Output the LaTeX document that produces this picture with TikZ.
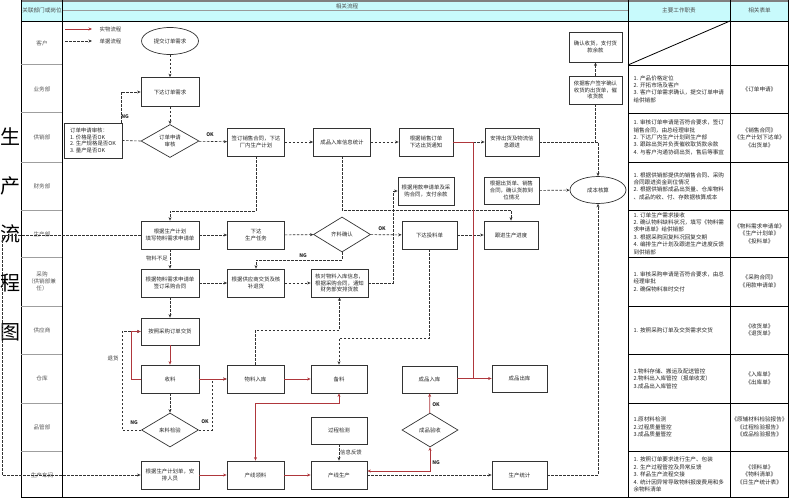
\documentclass[tikz,border=0pt]{standalone}
\usepackage{fontspec}
\setmainfont{Noto Sans CJK SC}
\usetikzlibrary{shapes.geometric,arrows.meta}
\definecolor{matred}{RGB}{175,55,60}
\definecolor{hdcyan}{RGB}{200,250,252}
\newcommand\flowfont{\fontsize{5.4}{6.6}\selectfont}
\newcommand\lblfont{\fontsize{5}{6}\selectfont\bfseries}
\newcommand\dutyfont{\fontsize{5.6}{7.4}\selectfont}
\newcommand\deptfont{\fontsize{5.6}{7}\selectfont}
\begin{document}
\begin{tikzpicture}[x=1pt,y=-1pt,
  box/.style={draw=black!80, line width=0.8pt, fill=white, minimum width=57pt, minimum height=28pt, inner sep=1pt, align=center, font=\flowfont, text=black!85},
  dia/.style={diamond, aspect=1.7, draw=black!80, line width=0.7pt, fill=white, minimum width=57pt, minimum height=34pt, inner sep=0pt, align=center, font=\flowfont, text=black!85},
  ell/.style={ellipse, draw=black!80, line width=0.7pt, fill=white, minimum width=57pt, minimum height=27pt, inner sep=0pt, font=\flowfont, text=black!85},
  doc/.style={draw=black!80, line width=0.6pt, dash pattern=on 2.5pt off 1.5pt, -{Stealth[length=3.5pt,width=3pt]}},
  docn/.style={draw=black!80, line width=0.6pt, dash pattern=on 2.5pt off 1.5pt},
  mat/.style={draw=matred, line width=0.7pt, -{Stealth[length=3.5pt,width=3pt]}},
  matn/.style={draw=matred, line width=0.7pt},
  matb/.style={draw=matred, line width=0.7pt, {Stealth[length=3.5pt,width=3pt]}-{Stealth[length=3.5pt,width=3pt]}},
  lbl/.style={font=\lblfont, inner sep=0.5pt, text=black!85},
  small/.style={font=\flowfont, inner sep=0.5pt, text=black!80},
  dept/.style={font=\deptfont, align=center, text=black!65},
  duty/.style={font=\dutyfont, align=left, text width=98pt, anchor=west, text=black!85},
  form/.style={font=\dutyfont, align=center, text=black!85},
  hdr/.style={font=\deptfont, text=black!70},
  ttl/.style={font=\fontsize{20}{20}\selectfont, text=black, inner sep=0pt}
]
\clip (0,0) rectangle (789,500);
\useasboundingbox (0,0) rectangle (789,500);
\fill[white] (0,0) rectangle (789,500);

% header
\fill[hdcyan] (21,0) rectangle (789,21);
\draw[gray, line width=1.6pt] (21,1) -- (789,1);
\draw[gray!80, line width=1pt] (62,11) -- (628,11);
\draw[black, line width=0.9pt] (21,21) -- (789,21);
\node[hdr] (h1) at (42,10) {关联部门或岗位};
\node[hdr] (h2) at (347,6) {相关流程};
\node[hdr] (h3) at (679,10) {主要工作职责};
\node[hdr] (h4) at (759.5,10) {相关表单};

% table frame
\draw[black, line width=1pt] (21,0) -- (21,498);
\draw[black, line width=1pt] (62,0) -- (62,498);
\draw[black, line width=1pt] (628,0) -- (628,498);
\draw[black, line width=0.8pt] (730,0) -- (730,498);
\draw[black, line width=0.8pt] (788.5,0) -- (788.5,498);
\draw[black, line width=1.6pt] (21,497.5) -- (789,497.5);
\foreach \yy in {65,113,162,210,257,306,354,403,451} {
  \draw[gray!75, line width=1pt] (21,\yy) -- (62,\yy);
  \draw[black, line width=0.8pt] (628,\yy) -- (789,\yy);
}
\draw[black, line width=0.8pt] (628,65) -- (730,21);

% dept labels
\node[dept] (d1) at (42,43) {客户};
\node[dept] (d2) at (42,89) {业务部};
\node[dept] (d3) at (42,137.5) {供销部};
\node[dept] (d4) at (42,186) {财务部};
\node[dept] (d5) at (42,234) {生产部};
\node[dept] (d6) at (42,281.5) {采购\\（供销部兼\\任）};
\node[dept] (d7) at (42,330) {供应商};
\node[dept] (d8) at (42,378.5) {仓库};
\node[dept] (d9) at (42,427) {品管部};
\node[dept] (d10) at (42,475) {生产车间};

% big title
\node[ttl] (t1) at (10.5,137) {生};
\node[ttl] (t2) at (10.5,186) {产};
\node[ttl] (t3) at (10.5,234) {流};
\node[ttl] (t4) at (10.5,283) {程};
\node[ttl] (t5) at (10.5,332) {图};

% legend
\coordinate (lg1) at (65,29); \coordinate (lg2) at (92,29);
\coordinate (lg3) at (65,41); \coordinate (lg4) at (92,41);
\draw[mat] (lg1) -- (lg2);
\draw[doc] (lg3) -- (lg4);
\node[small, anchor=west] (lgt1) at (99,29) {实物流程};
\node[small, anchor=west] (lgt2) at (99,41) {单据流程};

% duties
\node[duty] (r2) at (630,89) {1.\ 产品价格定位\\2.\ 开拓市场及客户\\3.\ 客户订单需求确认，提交订单申请\\给供销部};
\node[duty] (r3) at (630,137.5) {1.\ 审核订单申请是否符合要求，签订\\销售合同，由总经理审批\\2.\ 下达厂内生产计划到生产部\\3.\ 跟踪出货并负责催收取货款余款\\4.\ 与客户沟通协调出货，售后等事宜};
\node[duty] (r4) at (630,186) {1.\ 根据供销部提供的销售合同、采购\\合同跟进资金到位情况\\2.\ 根据供销部成品出货量、仓库物料\\、成品的收、付、存数据核算成本};
\node[duty] (r5) at (630,233.5) {1.\ 订单生产需求接收\\2.\ 确认物料缺料状况，填写《物料需\\求申请单》给供销部\\3.\ 根据采购回复料况回复交期\\4.\ 编排生产计划及跟进生产进度反馈\\到供销部};
\node[duty] (r6) at (630,281.5) {1.\ 审核采购申请是否符合要求，由总\\经理审批\\2.\ 确保物料准时交付};
\node[duty] (r7) at (630,330) {1.\ 按照采购订单及交货需求交货};
\node[duty] (r8) at (630,378.5) {1.物料存储、搬运及配送管控\\2.物料出入库管控（报单收发）\\3.成品出入库管控};
\node[duty] (r9) at (630,427) {1.原材料检测\\2.过程质量管控\\3.成品质量管控};
\node[duty] (r10) at (630,474.5) {1.\ 按照订单要求进行生产、包装\\2.\ 生产过程管控及异常反馈\\3.\ 样品生产流程交接\\4.\ 统计因异常导致物料报废费用和多\\余物料清单};

% forms
\node[form] (f2) at (759.5,89) {《订单申请》};
\node[form] (f3) at (759.5,137.5) {《销售合同》\\《生产计划下达单》\\《出货单》};
\node[form] (f5) at (759.5,233.5) {《物料需求申请单》\\《生产计划单》\\《投料单》};
\node[form] (f6) at (759.5,281.5) {《采购合同》\\《用款申请单》};
\node[form] (f7) at (759.5,330) {《收货单》\\《退货单》};
\node[form] (f8) at (759.5,378.5) {《入库单》\\《出库单》};
\node[form] (f9) at (759.5,427) {《原辅材料检验报告》\\《过程检验报告》\\《成品检验报告》};
\node[form] (f10) at (759.5,474.5) {《领料单》\\《物料清单》\\《日生产统计表》};

% helper coordinates
\coordinate (lp1) at (2,235);
\coordinate (ng1) at (121,123);
\coordinate (rj) at (473,378.5);

% flow nodes
\node[ell] (ti) at (170,41) {提交订单需求};
\node[box, minimum width=58pt, minimum height=29pt] (xd) at (170,92) {下达订单需求};
\node[dia, minimum width=58pt, minimum height=33pt] (sh) at (170,141) {订单申请\\审核};
\node[box, minimum width=58pt, minimum height=35pt, align=left] (note) at (93,140.5) {订单申请审核：\\1.\ 价格是否OK\\2.\ 生产规格是否OK\\3.\ 量产是否OK};
\node[box] (qd) at (256,142) {签订销售合同，下达\\厂内生产计划};
\node[box] (cr) at (342,142) {成品入库信息统计};
\node[box, minimum width=54pt] (gx) at (426,142) {根据销售订单\\下达出货通知};
\node[box, minimum width=54pt] (ap) at (512,142) {安排出货及物流信\\息跟进};
\node[box, minimum width=53pt, minimum height=30pt] (qr) at (595.5,47) {确认收货，支付货\\款余款};
\node[box, minimum width=53pt] (yj) at (595.5,90) {依据客户签字确认\\收货的出货单，催\\收货款};
\node[ell, minimum width=56pt] (cb) at (598,190) {成本核算};
\node[box, minimum width=55pt, minimum height=27pt] (hk) at (511.5,190.5) {根据出货单、销售\\合同，确认货款到\\位情况};
\node[box, minimum width=56pt] (yk) at (426,191) {根据用款申请单及采\\购合同，支付余款};
\node[box, minimum width=58pt] (gs) at (170,235) {根据生产计划\\填写物料需求申请单};
\node[box] (xr) at (256,235) {下达\\生产任务};
\node[dia, minimum height=35pt] (ql) at (342,234.5) {齐料确认};
\node[box, minimum width=55pt] (tl) at (429.5,235) {下达投料单};
\node[box, minimum width=54pt] (gj) at (511,235) {跟进生产进度};
\node[box, minimum width=58pt] (gw) at (170,283) {根据物料需求申请单\\签订采购合同};
\node[box] (gy) at (256,283) {根据供应商交货及核\\补退货};
\node[box] (hd) at (339.5,283) {核对物料入库信息，\\根据采购合同，通知\\财务部安排货款};
\node[box, minimum width=58pt, minimum height=27pt] (az) at (170,331.5) {按照采购订单交货};
\node[box, minimum width=58pt] (sl) at (170,379) {收料};
\node[dia] (lj) at (170,430) {来料检验};
\node[box] (wr) at (255.5,379) {物料入库};
\node[box, minimum width=56pt] (bl) at (339,379) {备料};
\node[box, minimum width=56pt, minimum height=27pt] (gc) at (339,430.5) {过程检测};
\node[box, minimum width=58pt] (ap2) at (170,475) {根据生产计划单，安\\排人员};
\node[box] (ll) at (255.5,475) {产线领料};
\node[box, minimum width=56pt] (sc) at (339,475) {产线生产};
\node[dia, minimum width=56pt] (yv) at (430,430) {成品验收};
\node[box, minimum width=55pt, minimum height=27pt] (cp) at (429.5,379.5) {成品入库};
\node[box, minimum width=55pt, minimum height=27pt] (co) at (519.5,378.5) {成品出库};
\node[box, minimum width=55pt] (st) at (519.5,475) {生产统计};

% document flow connectors
\draw[doc] (ti) -- (xd);
\draw[doc] (xd) -- (sh);
\draw[doc] (sh) -- (qd);
\draw[doc] (qd) -- (cr);
\draw[doc] (cr) -- (gx);
\draw[doc] (gx) -- (ap);
\draw[docn] (sh.west) -- (note.east);
\draw[doc] (ng1) |- (xd.west);
\draw[doc] (ap.east) -| (cb.north);
\draw[docn] (yj.south) -- (yj.south |- ap.east);
\draw[doc] (yj) -- (qr);
\draw[doc] (hk) -- (cb);
\draw[doc] (cr.south) -- (cr.south |- 0,210) -| (gj.north);
\draw[doc] (qd.south) -- (qd.south |- 0,211) -| (gs.north);
\draw[doc] (gs) -- (xr);
\draw[doc] (xr) -- (ql);
\draw[doc] (ql) -- (tl);
\draw[doc] (tl) -- (gj);
\draw[doc] (ql.south) -- (ql.south |- 0,260) -| (gy.north);
\draw[doc] (gs) -- (gw);
\draw[doc] (gw) -- (gy);
\draw[doc] (gy) -- (hd);
\draw[doc] (hd.east) -- (hd.east -| 393,0) |- (yk.west);
\draw[doc] (gw) -- (az);
\draw[doc] (sl) -- (lj);
\draw[doc] (lj.west) -- (lj.west -| 122,0) |- (az.west);
\draw[doc] (lj.east) -- (lj.east -| 212,0) |- (wr.west);
\draw[doc] (wr.north) -- (wr.north |- 0,330) -| (hd.south);
\draw[doc] (tl.south) -- (tl.south |- 0,338) -| (bl.north);
\draw[doc] (gc) -- (sc);
\draw[doc] (sc) -- (st);
\draw[doc] (st.east) -| (cb.south);
\draw[doc] (gs.west) -- (lp1) |- (ap2.west);

% material flow connectors
\draw[mat] (az) -- (sl);
\draw[mat] (sl.west) -- (sl.west -| 131,0) |- (az.west);
\draw[mat] (sl) -- (wr);
\draw[mat] (wr) -- (bl);
\draw[matb] (bl.south) -- (bl.south |- 0,403) -| (ll.north);
\draw[mat] (ap2) -- (ll);
\draw[mat] (ll) -- (sc);
\draw[matb] ([yshift=4pt]sc.east) -| (yv.south);
\draw[mat] (yv) -- (cp);
\draw[mat] (cp.east |- co.west) -- (co.west);
\draw[matn] (gx.east) -| (rj);

% labels
\node[lbl] (o1) at (210,135) {OK};
\node[lbl] (n1) at (125,117) {NG};
\node[lbl] (o2) at (382,229) {OK};
\node[lbl] (n2) at (303,256) {NG};
\node[small] (m1) at (157,258) {物料不足};
\node[small] (m2) at (113,358) {退货};
\node[lbl] (n3) at (134,423) {NG};
\node[lbl] (o3) at (205,422) {OK};
\node[small] (m3) at (351,452) {信息反馈};
\node[lbl] (o4) at (436,405) {OK};
\node[lbl] (n4) at (436,463) {NG};
\end{tikzpicture}
\end{document}
